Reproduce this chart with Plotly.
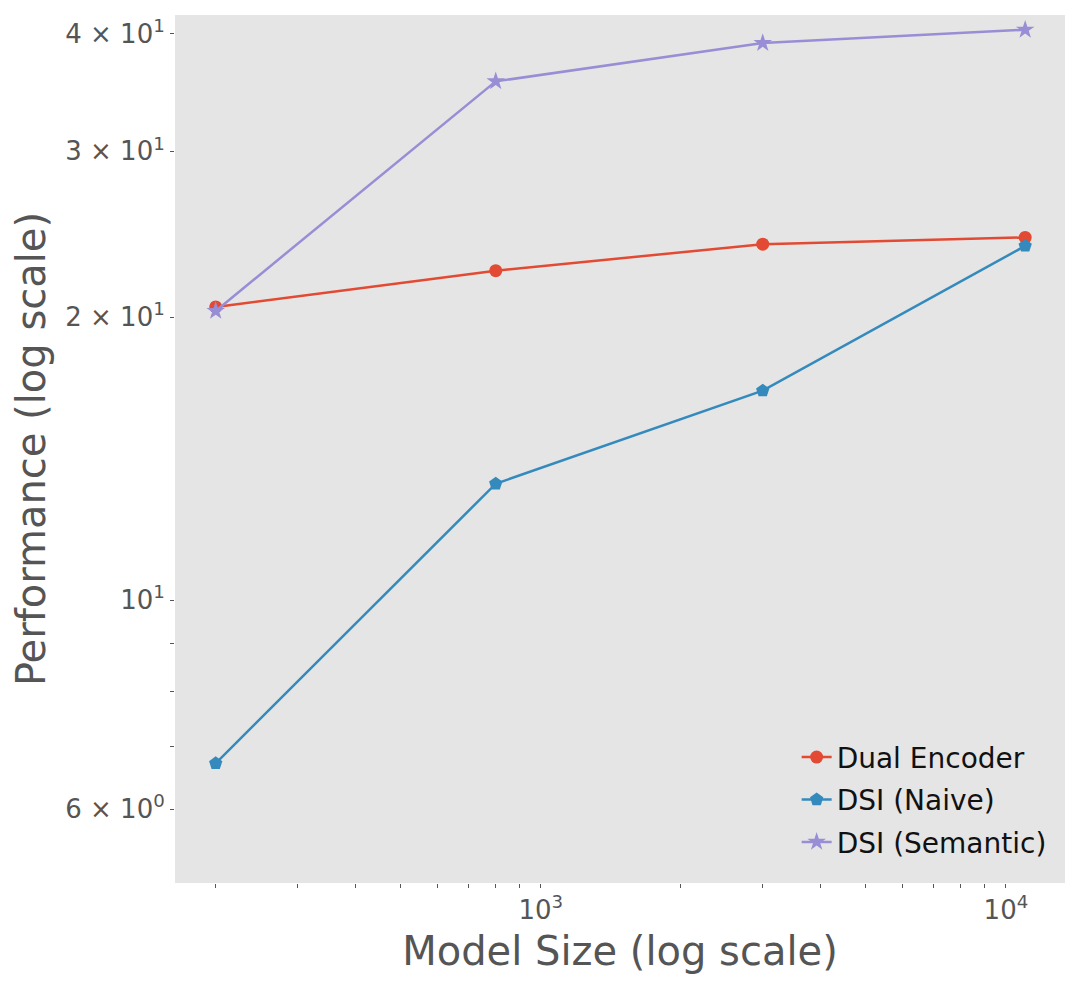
import numpy as np
import plotly.graph_objects as go

# model sizes (millions of params) and scores
model_size = [200, 800, 3000, 11000]
dual_encoder = [20.5, 22.4, 23.9, 24.3]
dsi_naive = [6.71, 13.3, 16.7, 23.8]
dsi_semantic = [20.3, 35.6, 39.1, 40.4]

x_major = [1000, 10000]
x_major_text = ["10<sup>3</sup>", "10<sup>4</sup>"]
x_minor = [200, 300, 400, 500, 600, 700, 800, 900,
           2000, 3000, 4000, 5000, 6000, 7000, 8000, 9000]

y_ticks = [5, 6, 7, 8, 9, 10, 20, 30, 40]
y_text = ["", "6 × 10<sup>0</sup>", "", "", "", "10<sup>1</sup>",
          "2 × 10<sup>1</sup>", "3 × 10<sup>1</sup>", "4 × 10<sup>1</sup>"]
y_grid = [10]

FONT = "DejaVu Sans"
GRAY = "#555555"

fig = go.Figure()
fig.add_trace(go.Scatter(x=model_size, y=dual_encoder, mode="lines+markers",
                         name="Dual Encoder", legendgroup="a",
                         line=dict(color="#E24A33", width=2.5),
                         marker=dict(symbol="circle", size=13, color="#E24A33")))
fig.add_trace(go.Scatter(x=model_size, y=dsi_naive, mode="lines+markers",
                         name="DSI (Naive)", legendgroup="b",
                         line=dict(color="#348ABD", width=2.5),
                         marker=dict(symbol="pentagon", size=14, color="#348ABD")))
fig.add_trace(go.Scatter(x=model_size, y=dsi_semantic, mode="lines+markers",
                         name="DSI (Semantic)", legendgroup="c",
                         line=dict(color="#988ED5", width=2.5),
                         marker=dict(symbol="star", size=14, color="#988ED5")))

# white grid only on major ticks (shapes on log axes take log10 values)
for gx in x_major:
    fig.add_shape(type="line", xref="x", yref="paper", x0=np.log10(gx), x1=np.log10(gx),
                  y0=0, y1=1, line=dict(color="white", width=1.5), layer="below")
for gy in y_grid:
    fig.add_shape(type="line", xref="paper", yref="y", y0=np.log10(gy), y1=np.log10(gy),
                  x0=0, x1=1, line=dict(color="white", width=1.5), layer="below")

ticks = x_minor + x_major
fig.update_xaxes(type="log", range=[2.2135, 4.127],
                 tickmode="array", tickvals=ticks,
                 ticktext=[""] * len(x_minor) + x_major_text,
                 ticks="outside", ticklen=4, tickcolor=GRAY, tickwidth=1,
                 showgrid=False, zeroline=False, showline=False,
                 tickfont=dict(family=FONT, size=26, color=GRAY),
                 title=dict(text="Model Size (log scale)", standoff=12,
                            font=dict(family=FONT, size=40, color=GRAY)))
fig.update_yaxes(type="log", range=[0.6995, 1.622],
                 tickmode="array", tickvals=y_ticks, ticktext=y_text,
                 ticks="outside", ticklen=4, tickcolor=GRAY, tickwidth=1,
                 showgrid=False, zeroline=False, showline=False,
                 tickfont=dict(family=FONT, size=26, color=GRAY),
                 title=dict(text="Performance (log scale)", standoff=10,
                            font=dict(family=FONT, size=40, color=GRAY)))

fig.update_layout(
    width=1081, height=990,
    margin=dict(l=167, r=24, t=7, b=115),
    paper_bgcolor="white", plot_bgcolor="#E5E5E5",
    showlegend=True,
    legend=dict(x=0.985, y=0.018, xanchor="right", yanchor="bottom",
                bgcolor="rgba(0,0,0,0)", borderwidth=0,
                font=dict(family=FONT, size=28, color="#111111"),
                tracegroupgap=3),
)

fig.write_html("out.html")
